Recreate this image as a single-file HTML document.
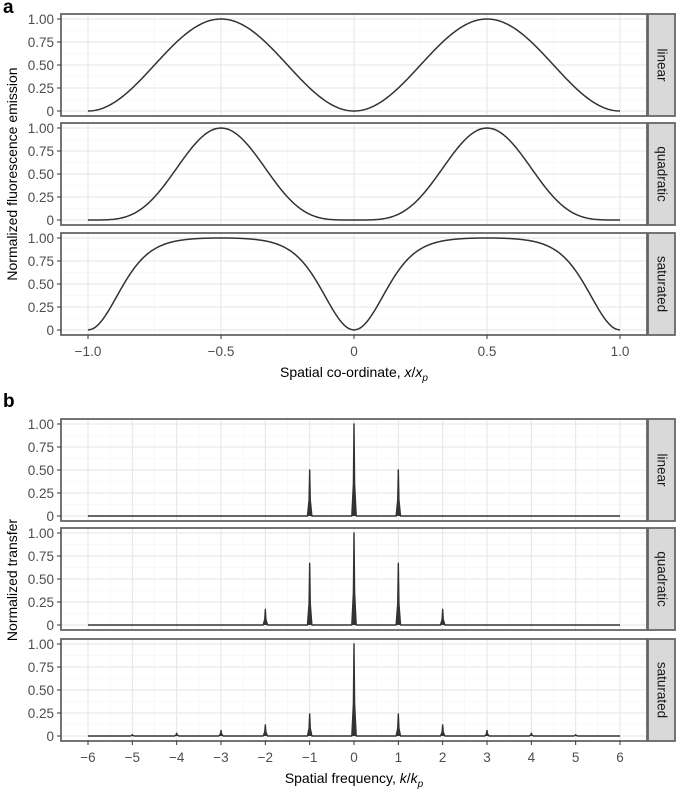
<!DOCTYPE html>
<html><head><meta charset="utf-8"><style>
body{margin:0;background:#fff}
svg{display:block;font-family:"Liberation Sans",sans-serif}
</style></head><body>
<svg id="c" width="677" height="794" viewBox="0 0 677 794"></svg>
<script>
// Spatial profiles sampled over x = 0 .. 0.5 (step 0.025), symmetric / periodic
const sampleStep = 0.025;
const linearVals = [0,.0062,.0245,.0545,.0955,.1464,.2061,.2730,.3455,.4218,.5,.5782,.6545,.7270,.7939,.8536,.9045,.9455,.9755,.9938,1];
const quadraticVals = [0,.00004,.0006,.0030,.0091,.0214,.0425,.0745,.1194,.1779,.25,.3343,.4284,.5285,.6303,.7286,.8181,.8940,.9516,.9877,1];
const saturatedVals = [0,.0250,.0952,.1996,.3234,.4514,.5719,.6768,.7628,.8301,.8805,.9174,.9444,.9630,.9761,.9852,.9914,.9955,.9981,.9995,1];
// Transfer spikes
const freqK = [-5,-4,-3,-2,-1,0,1,2,3,4,5];
const linearTransfer = [0,0,0,0,.5,1,.5,0,0,0,0];
const quadraticTransfer = [0,0,0,.17,.67,1,.67,.17,0,0,0];
const saturatedTransfer = [.015,.03,.06,.12,.24,1,.24,.12,.06,.03,.015];
const yTicks = [0,.25,.5,.75,1];
const yTickLabels = ["0","0.25","0.50","0.75","1.00"];
const xTicksA = [-1,-.5,0,.5,1];
const xTickLabelsA = ["\u22121.0","\u22120.5","0","0.5","1.0"];
const xTicksB = [-6,-5,-4,-3,-2,-1,0,1,2,3,4,5,6];
const facetNames = ["linear","quadratic","saturated"];

const svg = document.getElementById('c');
const NS = 'http://www.w3.org/2000/svg';
function mk(tag, attrs, parent){const e=document.createElementNS(NS,tag);for(const k in attrs)e.setAttribute(k,attrs[k]);(parent||svg).appendChild(e);return e;}

const PX0=61, PX1=647, SX1=675;
function sx(lo,hi){return v=>88+(v-lo)/(hi-lo)*(620-88);}
function sy(top,bottom){return v=>(bottom-5)-v*(bottom-5-(top+5));}

function profile(vals,x){let t=Math.abs(x)%1; if(t>0.5)t=1-t; const i=t/sampleStep; const a=Math.floor(i); const b=Math.min(a+1,vals.length-1); const f=i-a;
  const p0=vals[Math.max(a-1,0)], p1=vals[a], p2=vals[b], p3=vals[Math.min(b+1,vals.length-1)];
  const m1=(p2-p0)/2, m2=(p3-p1)/2, f2=f*f, f3=f2*f;
  return (2*f3-3*f2+1)*p1+(f3-2*f2+f)*m1+(-2*f3+3*f2)*p2+(f3-f2)*m2;}

function panel(top,bottom,xs,xlo,xhi,majX,minX,name,idx,drawFn){
  const g=mk('g',{});
  
  
  const y=sy(top,bottom);
  mk('rect',{x:PX0,y:top,width:PX1-PX0,height:bottom-top,fill:'#fff'},g);
  for(let v=0.125;v<1;v+=0.25) mk('line',{x1:PX0,x2:PX1,y1:y(v),y2:y(v),stroke:'#f3f3f3','stroke-width':0.6},g);
  minX.forEach(v=>mk('line',{x1:xs(v),x2:xs(v),y1:top,y2:bottom,stroke:'#f3f3f3','stroke-width':0.6},g));
  yTicks.forEach(v=>mk('line',{x1:PX0,x2:PX1,y1:y(v),y2:y(v),stroke:'#e6e6e6','stroke-width':1.1},g));
  majX.forEach(v=>mk('line',{x1:xs(v),x2:xs(v),y1:top,y2:bottom,stroke:'#e6e6e6','stroke-width':1.1},g));
  drawFn(g,y);
  mk('rect',{x:PX0,y:top,width:PX1-PX0,height:bottom-top,fill:'none',stroke:'#666','stroke-width':1.8},g);
  yTicks.forEach((v,i)=>{
    mk('line',{x1:PX0-4,x2:PX0,y1:y(v),y2:y(v),stroke:'#333','stroke-width':1},g);
    const t=mk('text',{x:PX0-7,y:y(v)+4.8,'text-anchor':'end','font-size':13.5,fill:'#4d4d4d'},g);
    t.textContent=yTickLabels[i];
  });
  const s=mk('rect',{x:PX1+1,y:top,width:SX1-PX1-1,height:bottom-top,fill:'#d9d9d9',stroke:'#666','stroke-width':1.8},g);
  
  
  const cx=(PX1+SX1)/2+1, cy=(top+bottom)/2;
  const st=mk('text',{x:cx,y:cy,transform:`rotate(90 ${cx} ${cy})`,'text-anchor':'middle','dominant-baseline':'central','font-size':13.5,fill:'#1a1a1a'},g);
  st.textContent=name;
}

// Panel a
const xa=sx(-1,1);
const aTops=[[14,116],[123,225],[233,335]];
const aVals=[linearVals,quadraticVals,saturatedVals];
aTops.forEach(([t,b],i)=>{
  panel(t,b,xa,-1,1,xTicksA,[-.75,-.25,.25,.75],facetNames[i],i,(g,y)=>{
    let d='';
    for(let k=0;k<=400;k++){const x=-1+k*2/400; d+=(k?'L':'M')+xa(x).toFixed(2)+','+y(profile(aVals[i],x)).toFixed(2);}
    const p=mk('path',{d:d,fill:'none',stroke:'#333','stroke-width':1.5},g);
    
    
  });
});
xTicksA.forEach((v,i)=>{
  mk('line',{x1:xa(v),x2:xa(v),y1:335,y2:339,stroke:'#333','stroke-width':1});
  const t=mk('text',{x:xa(v),y:356,'text-anchor':'middle','font-size':13.5,fill:'#4d4d4d'});
  t.textContent=xTickLabelsA[i];
});

// Panel b
const xb=sx(-6,6);
const bTops=[[419,521],[528,630],[639,741]];
const bVals=[linearTransfer,quadraticTransfer,saturatedTransfer];
const minB=[];for(let v=-5.5;v<6;v+=1)minB.push(v);
bTops.forEach(([t,b],i)=>{
  panel(t,b,xb,-6,6,xTicksB,minB,facetNames[i],i,(g,y)=>{
    let d='M'+xb(-6)+','+y(0);
    freqK.forEach((k,j)=>{
      const v=bVals[i][j]; if(v<=0)return;
      d+='L'+(xb(k)-2.2).toFixed(2)+','+y(0)+'L'+(xb(k)-0.6).toFixed(2)+','+y(v*0.35).toFixed(2)+'L'+xb(k).toFixed(2)+','+y(v).toFixed(2)+'L'+(xb(k)+0.6).toFixed(2)+','+y(v*0.35).toFixed(2)+'L'+(xb(k)+2.2).toFixed(2)+','+y(0);
    });
    d+='L'+xb(6)+','+y(0);
    const p=mk('path',{d:d,fill:'#333',stroke:'#333','stroke-width':1.4,'stroke-linejoin':'round'},g);
    
    
  });
});
xTicksB.forEach(v=>{
  mk('line',{x1:xb(v),x2:xb(v),y1:741,y2:745,stroke:'#333','stroke-width':1});
  const t=mk('text',{x:xb(v),y:762,'text-anchor':'middle','font-size':13.5,fill:'#4d4d4d'});
  t.textContent=v<0?'\u2212'+(-v):String(v);
});
</script>
<div style="position:absolute;left:0;top:0;width:677px;height:794px;pointer-events:none;font-family:'Liberation Sans',sans-serif">
  <div style="position:absolute;left:3px;top:-3px;font-size:19px;font-weight:bold">a</div>
  <div style="position:absolute;left:3px;top:391px;font-size:19px;font-weight:bold">b</div>
  <div style="position:absolute;left:-138px;top:166px;width:300px;text-align:center;font-size:14px;white-space:nowrap;transform:rotate(-90deg)">Normalized fluorescence emission</div>
  <div style="position:absolute;left:-138px;top:572px;width:300px;text-align:center;font-size:14px;white-space:nowrap;transform:rotate(-90deg)">Normalized transfer</div>
  <div style="position:absolute;left:154px;top:364px;width:400px;text-align:center;font-size:14px">Spatial co-ordinate, <i>x</i>/<i>x</i><sub style="font-size:10px"><i>p</i></sub></div>
  <div style="position:absolute;left:154px;top:770px;width:400px;text-align:center;font-size:14px">Spatial frequency, <i>k</i>/<i>k</i><sub style="font-size:10px"><i>p</i></sub></div>
</div>
</body></html>
